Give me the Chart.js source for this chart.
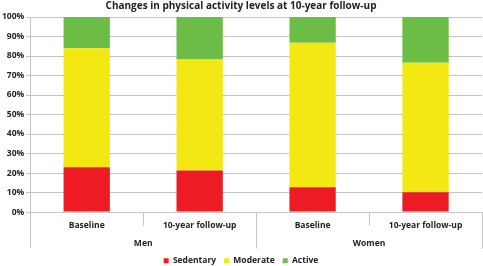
<!DOCTYPE html>
<html>
<head>
<meta charset="utf-8">
<script src="https://cdn.jsdelivr.net/npm/chart.js@4/dist/chart.umd.min.js"></script>
<style>
  html, body { margin: 0; padding: 0; background: #fff; }
  #wrap { width: 483px; height: 266px; }
</style>
</head>
<body>
<div id="wrap"><canvas id="activityChart"></canvas></div>
<script>
// Values (percent of participants)
const categories = ["Baseline", "10-year follow-up", "Baseline", "10-year follow-up"];
const groups = ["Men", "Women"];
const sedentary = [23, 21.3, 12.8, 10.2];
const moderate = [61, 56.9, 74, 66.3];
const active = [16, 21.8, 13.2, 23.5];
const yTicks = [0, 10, 20, 30, 40, 50, 60, 70, 80, 90, 100];

const lineColor = "#c4c4c4";
const fontFamily = "'Open Sans', 'DejaVu Sans', sans-serif";

// Draws the vertical separators under the x axis (category and group boundaries)
const dividerPlugin = {
  id: "dividers",
  afterDraw(chart) {
    const ctx = chart.ctx;
    const x = chart.scales.x;
    const x2 = chart.scales.x2;
    const top = chart.chartArea.bottom;
    const perGroup = categories.length / groups.length;
    ctx.save();
    ctx.strokeStyle = lineColor;
    ctx.lineWidth = 1;
    for (let i = 0; i <= categories.length; i++) {
      let px;
      if (i === 0) px = x.left;
      else if (i === categories.length) px = x.right - 0.5;
      else px = (x.getPixelForValue(i - 1) + x.getPixelForValue(i)) / 2;
      const bottom = (i % perGroup === 0) ? x2.bottom : top + (x.bottom - top) * 0.52;
      ctx.beginPath();
      ctx.moveTo(Math.round(px) + 0.5, top);
      ctx.lineTo(Math.round(px) + 0.5, bottom);
      ctx.stroke();
    }
    ctx.restore();
  }
};

const ctx = document.getElementById("activityChart").getContext("2d");
new Chart(ctx, {
  type: "bar",
  data: {
    labels: categories,
    datasets: [
      { label: "Sedentary", data: sedentary, backgroundColor: "#ed1c24" },
      { label: "Moderate", data: moderate, backgroundColor: "#f4e814" },
      { label: "Active", data: active, backgroundColor: "#6cbd45" }
    ]
  },
  options: {
    responsive: true,
    maintainAspectRatio: false,
    animation: false,
    // the legend adds 10px of spare room under its row, let that hang off the canvas
    layout: { padding: { left: 0, right: 1, top: 0, bottom: -9 } },
    datasets: { bar: { barPercentage: 0.41, categoryPercentage: 1 } },
    plugins: {
      title: {
        display: true,
        text: "Changes in physical activity levels at 10-year follow-up",
        color: "#222",
        font: { family: fontFamily, size: 10, weight: "bold" },
        padding: { top: 0, bottom: 5 }
      },
      legend: {
        position: "bottom",
        labels: {
          boxWidth: 5,
          boxHeight: 5,
          padding: 8,
          color: "#222",
          font: { family: fontFamily, size: 8.5, weight: "bold", lineHeight: 1 }
        }
      },
      tooltip: { enabled: false }
    },
    scales: {
      x: {
        stacked: true,
        grid: { display: false, drawTicks: false },
        border: { display: true, color: lineColor },
        ticks: {
          color: "#222",
          padding: 8,
          maxRotation: 0,
          autoSkip: false,
          font: { family: fontFamily, size: 8.5, weight: "bold" }
        }
      },
      x2: {
        type: "category",
        labels: groups,
        position: "bottom",
        grid: { display: false, drawTicks: false },
        border: { display: false },
        ticks: {
          color: "#222",
          padding: 0,
          font: { family: fontFamily, size: 8.5, weight: "bold" }
        }
      },
      y: {
        stacked: true,
        min: 0,
        max: 100,
        afterBuildTicks(scale) {
          scale.ticks = yTicks.map(v => ({ value: v }));
        },
        grid: { color: lineColor, tickLength: 4 },
        border: { display: true, color: lineColor },
        ticks: {
          color: "#222",
          padding: 2,
          callback: (value) => value + "%",
          font: { family: fontFamily, size: 8.5, weight: "bold" }
        }
      }
    }
  },
  plugins: [dividerPlugin]
});
</script>
</body>
</html>
